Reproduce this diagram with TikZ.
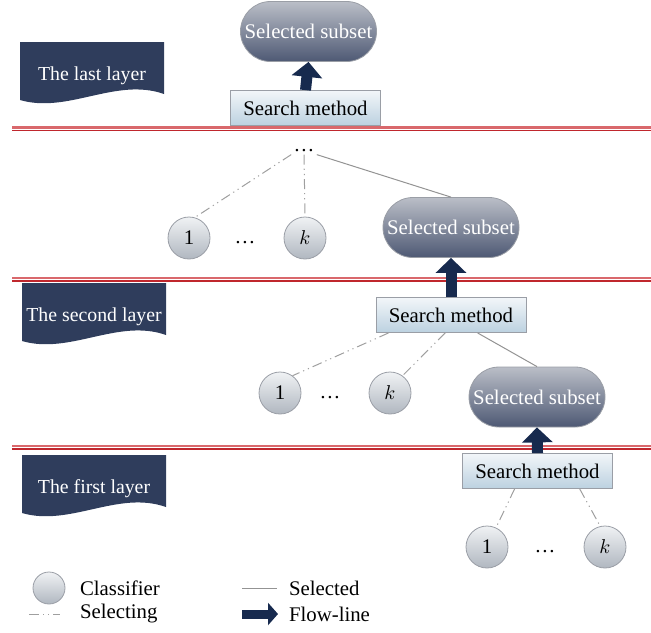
\documentclass[tikz,border=0pt]{standalone}
\usepackage{fontspec}
\setmainfont{Liberation Serif}
\usetikzlibrary{shapes.misc,arrows.meta}
\definecolor{flagblue}{HTML}{2F3D5C}
\definecolor{flownavy}{HTML}{172A4E}
\definecolor{pilltop}{HTML}{BABEC7}
\definecolor{pillbot}{HTML}{4E5974}
\definecolor{pillrim}{HTML}{9A9EA6}
\definecolor{boxtop}{HTML}{F2F6F9}
\definecolor{boxbot}{HTML}{BCD1E0}
\definecolor{clftop}{HTML}{F0F2F4}
\definecolor{clfbot}{HTML}{B0B7C0}
\definecolor{rimlight}{HTML}{D9686C}
\definecolor{rimdark}{HTML}{C0272D}
\def\layerflag(#1,#2)#3#4{\fill[flagblue] (#1,#2) -- (#1+144,#2) -- (#1+144,#2+52) .. controls (#1+96,#2+35) and (#1+48,#2+72) .. (#1,#2+58) -- cycle;
  \node[text=white, font=\fontsize{9.9pt}{12pt}\selectfont] (#3) at (#1+72,#2+34) {#4};}
\tikzset{
  subset/.style={rounded rectangle, draw=pillrim, top color=pilltop, bottom color=pillbot, text=white, minimum width=68pt, minimum height=30pt, inner sep=0pt},
  search/.style={rectangle, draw=pillrim, top color=boxtop, bottom color=boxbot, minimum width=75pt, minimum height=17.5pt, inner sep=0pt},
  clf/.style={circle, draw=pillrim, top color=clftop, bottom color=clfbot, minimum size=21pt, inner sep=0pt},
  selecting/.style={draw=gray!75, line width=0.5pt, dash pattern=on 5pt off 2pt on 0.6pt off 2pt on 0.6pt off 2pt},
  selected/.style={draw=gray!85, line width=0.5pt},
  flow/.style={draw=flownavy, line width=5.5pt, -{Triangle[width=15pt,length=7.5pt]}},
  dots/.style={inner sep=1pt}
}
\begin{document}
\begin{tikzpicture}[x=0.5pt,y=-0.5pt,font=\fontsize{10.4pt}{12.5pt}\selectfont]
	%%%%% START %%%%%
	\useasboundingbox (0,0) rectangle (651,632);
	
	% dividers between the layers
	\foreach \y in {127.5,278,446} {
		\draw[rimlight, line width=1.3pt] (12,\y) -- (651,\y);
		\draw[rimdark, line width=0.6pt] (12,\y+3) -- (651,\y+3);
	}
	
	\layerflag(20,42){flagC}{The last layer}
	\layerflag(22,283){flagB}{The second layer}
	\layerflag(22,455){flagA}{The first layer}
	
	% the last layer
	\node[subset] (subC) at (308.5,31.5) {Selected subset};
	\node[search] (searchC) at (305.5,108) {Search method};
	\draw[flow] (searchC.north) -- (subC.south);
	
	% the second layer
	\node[dots] (dotsC) at (304,151) {…};
	\node[clf] (clfC1) at (189,238) {1};
	\node[dots] (dotsC1) at (245,243) {…};
	\node[clf] (clfCk) at (305,238) {$k$};
	\node[subset] (subB) at (451,227.5) {Selected subset};
	\draw[selecting] (dotsC.south west) -- (clfC1.74);
	\draw[selecting] (dotsC.south) -- (clfCk.north);
	\draw[selected] (dotsC.south east) -- (subB.north);
	
	\node[search] (searchB) at (451,315) {Search method};
	\draw[flow] (searchB.north) -- (subB.south);
	\node[clf] (clfB1) at (280,393) {1};
	\node[dots] (dotsB1) at (330,398) {…};
	\node[clf] (clfBk) at (390,393) {$k$};
	\node[subset] (subA) at (537,397) {Selected subset};
	\draw[selecting] (searchB.196) -- (clfB1.54);
	\draw[selecting] (searchB.252) -- (clfBk.54);
	\draw[selected] (searchB.326) -- (subA.north);
	
	% the first layer
	\node[search] (searchA) at (537.5,471) {Search method};
	\draw[flow] (searchA.north) -- (subA.south);
	\node[clf] (clfA1) at (487,547) {1};
	\node[dots] (dotsA1) at (545,552) {…};
	\node[clf] (clfAk) at (605,547) {$k$};
	\draw[selecting] (searchA.218) -- (clfA1.65);
	\draw[selecting] (searchA.337) -- (clfAk.103);
	
	% legend
	\node[clf, minimum size=16pt] (legClf) at (49,588) {};
	\node[anchor=west] (legClfT) at (73,588) {Classifier};
	\coordinate (legSelA) at (242,588);
	\coordinate (legSelB) at (277,588);
	\draw[selected] (legSelA) -- (legSelB);
	\node[anchor=west] (legSelT) at (282,588) {Selected};
	\coordinate (legIngA) at (29,614);
	\coordinate (legIngB) at (60,614);
	\draw[selecting] (legIngA) -- (legIngB);
	\node[anchor=west] (legIngT) at (73,614) {Selecting};
	\coordinate (legFlowA) at (242,614);
	\coordinate (legFlowB) at (278,614);
	\draw[flow, line width=4.5pt, -{Triangle[width=11pt,length=5pt]}] (legFlowA) -- (legFlowB);
	\node[anchor=west] (legFlowT) at (282,614) {Flow-line};
	%%%%% END %%%%%
\end{tikzpicture}
\end{document}
